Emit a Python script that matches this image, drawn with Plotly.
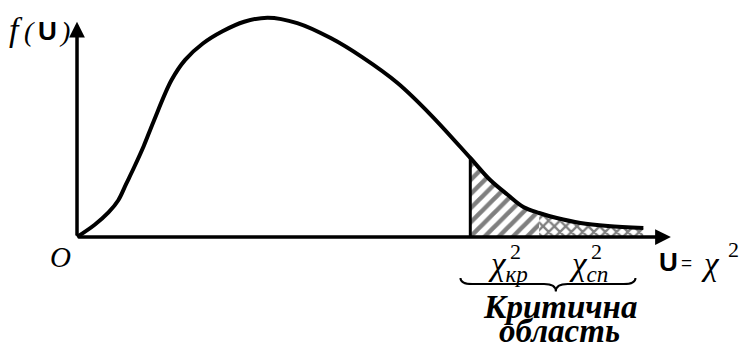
import plotly.graph_objects as go

# density curve (U on x, f(U) on y)
U = [0, 0.45, 0.8, 1.05, 1.25, 1.45, 1.7, 1.95, 2.4, 2.75, 3.2, 3.7, 4.25, 4.85,
     5.6, 6.45, 7.25, 8.15, 9.0, 10.0, 10.5, 10.95, 11.35, 11.75, 12.2, 12.8,
     13.5, 14.4]
F = [0, 0.009, 0.018, 0.027, 0.039, 0.051, 0.067, 0.085, 0.115, 0.130, 0.142,
     0.151, 0.158, 0.161, 0.157, 0.146, 0.132, 0.113, 0.0895, 0.058, 0.042,
     0.031, 0.022, 0.0176, 0.0139, 0.0103, 0.0081, 0.0066]
U_KR = 10.0   # chi^2 critical
U_SP = 11.75  # start of cross-hatched part
X_END = 15.1
Y_TOP = 0.158

i_kr = U.index(U_KR)
i_sp = U.index(U_SP)

fig = go.Figure()

# hatched critical area
fig.add_trace(go.Scatter(
    x=U[i_kr:i_sp + 1], y=F[i_kr:i_sp + 1], mode="lines", line_shape="spline",
    line=dict(width=0, color="rgba(0,0,0,0)"), fill="tozeroy", fillcolor="white",
    fillpattern=dict(shape="/", fgcolor="black", bgcolor="white", size=10, solidity=0.45),
    hoverinfo="skip"))
fig.add_trace(go.Scatter(
    x=U[i_sp:], y=F[i_sp:], mode="lines", line_shape="spline",
    line=dict(width=0, color="rgba(0,0,0,0)"), fill="tozeroy", fillcolor="white",
    fillpattern=dict(shape="x", fgcolor="black", bgcolor="white", size=8, solidity=0.5),
    hoverinfo="skip"))

# main curve
fig.add_trace(go.Scatter(x=U, y=F, mode="lines", line_shape="spline",
                         line=dict(color="black", width=4, smoothing=1.0),
                         hoverinfo="skip"))
# critical line
fig.add_trace(go.Scatter(x=[U_KR, U_KR], y=[0, F[i_kr]], mode="lines",
                         line=dict(color="black", width=3), hoverinfo="skip"))

# axes drawn as arrows
for (x, y) in [(X_END, 0), (0, Y_TOP)]:
    fig.add_annotation(x=x, y=y, ax=0, ay=0, xref="x", yref="y", axref="x", ayref="y",
                       text="", showarrow=True, arrowhead=2, arrowsize=0.9,
                       arrowwidth=3.5, arrowcolor="black")

# curly brace under the critical area
bx0, bx1 = U_KR - 0.25, U[-1] - 0.2
bxc = (bx0 + bx1) / 2 + 0.2
yt, ym, yb = -0.030, -0.0345, -0.040
d = 0.3
brace = (f"M {bx0},{yt} Q {bx0},{ym} {bx0 + d},{ym} L {bxc - d},{ym} "
         f"Q {bxc},{ym} {bxc},{yb} Q {bxc},{ym} {bxc + d},{ym} "
         f"L {bx1 - d},{ym} Q {bx1},{ym} {bx1},{yt}")
fig.add_shape(type="path", path=brace, xref="x", yref="y",
              line=dict(color="black", width=2))

serif = "Liberation Serif"
sans = "Liberation Sans"


def label(x, y, text, size, family=serif, xanchor="center"):
    fig.add_annotation(x=x, y=y, xref="x", yref="y", text=text, showarrow=False,
                       font=dict(family=family, size=size, color="black"),
                       xanchor=xanchor, yanchor="middle")


label(-0.41, -0.0145, "<i>O</i>", 29)

# f(U)
label(-1.55, 0.152, "<i>f</i>", 34)
label(-1.22, 0.151, "<i>(</i>", 28)
label(-0.75, 0.151, "<b>U</b>", 26, family=sans)
label(-0.33, 0.151, "<i>)</i>", 28)

# chi^2 labels
label(10.95, -0.022, "<i>χ<sub>кр</sub></i>", 33)
label(11.15, -0.0105, "2", 22)
label(13.0, -0.022, "<i>χ<sub>сп</sub></i>", 33)
label(13.22, -0.0105, "2", 22)

# U = chi^2
label(15.05, -0.0185, "<b>U</b>", 26, family=sans)
label(15.5, -0.0185, "=", 19, family=sans)
label(16.1, -0.0195, "<i>χ</i>", 33)
label(16.68, -0.0095, "2", 22)

label(12.28, -0.0515, "<b><i>Критична</i></b>", 33)
label(12.28, -0.069, "<b><i>область</i></b>", 33)

fig.update_layout(
    width=741, height=342, margin=dict(l=0, r=0, t=0, b=0),
    paper_bgcolor="white", plot_bgcolor="white", showlegend=False,
    xaxis=dict(visible=False, range=[-1.958, 16.883]),
    yaxis=dict(visible=False, range=[-0.07706, 0.17394]),
)

fig.write_html("out.html", config={"displayModeBar": False},
               post_script="document.body.style.margin='0';")
